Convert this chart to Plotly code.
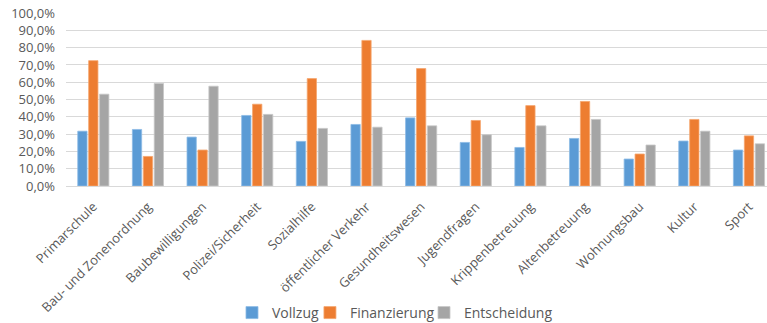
import plotly.graph_objects as go

categories = ["Primarschule", "Bau- und Zonenordnung", "Baubewilligungen", "Polizei/Sicherheit",
              "Sozialhilfe", "öffentlicher Verkehr", "Gesundheitswesen", "Jugendfragen",
              "Krippenbetreuung", "Altenbetreuung", "Wohnungsbau", "Kultur", "Sport"]
vollzug = [0.317, 0.327, 0.283, 0.408, 0.258, 0.356, 0.394, 0.252, 0.223, 0.275, 0.156, 0.260, 0.208]
finanzierung = [0.725, 0.171, 0.208, 0.473, 0.621, 0.842, 0.679, 0.379, 0.465, 0.489, 0.185, 0.385, 0.290]
entscheidung = [0.531, 0.593, 0.577, 0.414, 0.333, 0.340, 0.348, 0.296, 0.348, 0.385, 0.237, 0.317, 0.244]
series_names = ["Vollzug", "Finanzierung", "Entscheidung"]
colors = ["#5B9BD5", "#ED7D31", "#A5A5A5"]
edge_colors = ["#8DBBE6", "#F5A66F", "#C6C6C6"]

font_family = "Open Sans"
text_color = "#595959"

legend_ids = ["legend", "legend2", "legend3"]
legend_x = [0.2368, 0.348, 0.5107]

fig = go.Figure()
for name, vals, col, ecol, lid in zip(series_names, [vollzug, finanzierung, entscheidung],
                                      colors, edge_colors, legend_ids):
    fig.add_trace(go.Bar(x=categories, y=vals, name=name, legend=lid,
                         marker=dict(color=col, line=dict(width=0.8, color=ecol))))

legend_common = dict(orientation="h", y=-0.734, yanchor="middle", xanchor="left",
                     font=dict(family=font_family, size=14, color=text_color),
                     bgcolor="rgba(0,0,0,0)")

fig.update_layout(
    width=767, height=323,
    margin=dict(l=66, r=0, t=13, b=137, autoexpand=False),
    paper_bgcolor="white", plot_bgcolor="white",
    barmode="group", bargap=0.4, bargroupgap=0.15,
    separators=",.",
    font=dict(family=font_family, size=14, color=text_color),
    showlegend=True,
    legend=dict(x=legend_x[0], **legend_common),
    legend2=dict(x=legend_x[1], **legend_common),
    legend3=dict(x=legend_x[2], **legend_common),
    xaxis=dict(range=[-0.5, 12.33], tickangle=-45, showgrid=False, showline=True,
               linecolor="#D9D9D9", linewidth=1, ticks="", ticklabelstandoff=7,
               automargin=False,
               tickfont=dict(family=font_family, size=13, color=text_color)),
    yaxis=dict(range=[0, 1.0005], tickmode="linear", tick0=0, dtick=0.1, tickformat=".1%",
               showgrid=True, gridcolor="#D9D9D9", gridwidth=1, zeroline=False,
               showline=False, ticks="", ticklabelstandoff=10, automargin=False,
               tickfont=dict(family=font_family, size=13, color=text_color)),
)

fig.write_html("out.html")
